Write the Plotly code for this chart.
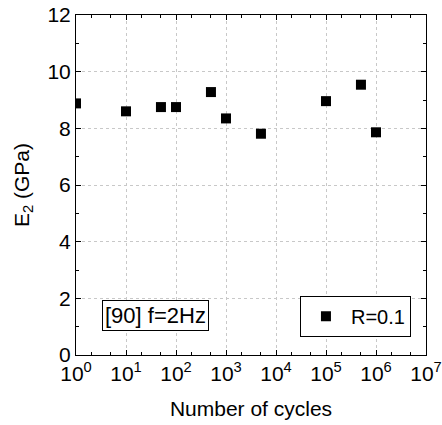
import plotly.graph_objects as go

# Modulus E2 measured at various cycle counts
cycles = [1, 10, 50, 100, 500, 1000, 5000, 1e5, 5e5, 1e6]
e2_gpa = [8.88, 8.60, 8.75, 8.75, 9.28, 8.35, 7.81, 8.96, 9.54, 7.86]

x_tickvals = [1, 10, 100, 1000, 1e4, 1e5, 1e6, 1e7]
x_ticktext = [f"10<sup>{i}</sup>" for i in range(8)]
y_tickvals = [0, 2, 4, 6, 8, 10, 12]

FONT = "Liberation Sans, Arial, sans-serif"

fig = go.Figure()
fig.add_trace(go.Scatter(
    x=cycles, y=e2_gpa, mode="markers", name="R=0.1",
    marker=dict(symbol="square", size=10, color="black"),
))

fig.update_layout(
    width=442, height=425,
    margin=dict(l=76, r=16, t=15, b=70, autoexpand=False),
    plot_bgcolor="white", paper_bgcolor="white",
    font=dict(family=FONT, size=21, color="black"),
    showlegend=True,
    legend=dict(
        x=0.957, y=0.054, xanchor="right", yanchor="bottom",
        bordercolor="black", borderwidth=1, bgcolor="white",
        font=dict(size=20), itemwidth=40,
    ),
    annotations=[dict(
        text="[90] f=2Hz", xref="paper", yref="paper",
        x=0.226, y=0.116, xanchor="center", yanchor="middle",
        showarrow=False, bordercolor="black", borderwidth=1,
        bgcolor="white", borderpad=2, font=dict(size=22),
    )],
)

fig.update_xaxes(
    type="log", range=[0, 7], automargin=False,
    tickvals=x_tickvals, ticktext=x_ticktext,
    ticks="inside", ticklen=5, tickcolor="black",
    showline=True, linecolor="black", linewidth=1, mirror="allticks",
    showgrid=True, gridcolor="#c8c8c8", griddash="dot", gridwidth=1,
    minor=dict(ticks="inside", ticklen=3, tickcolor="black", showgrid=False),
    title=dict(text="Number of cycles", font=dict(size=21), standoff=17),
    zeroline=False,
)
fig.update_yaxes(
    range=[0, 12], tickvals=y_tickvals, automargin=False,
    ticks="inside", ticklen=5, tickcolor="black",
    showline=True, linecolor="black", linewidth=1, mirror="allticks",
    showgrid=True, gridcolor="#c8c8c8", griddash="dot", gridwidth=1,
    minor=dict(ticks="inside", ticklen=3, tickcolor="black", dtick=1, showgrid=False),
    title=dict(text="E<sub>2</sub> (GPa)", font=dict(size=21), standoff=12),
    zeroline=False,
)

fig.write_html("out.html")
